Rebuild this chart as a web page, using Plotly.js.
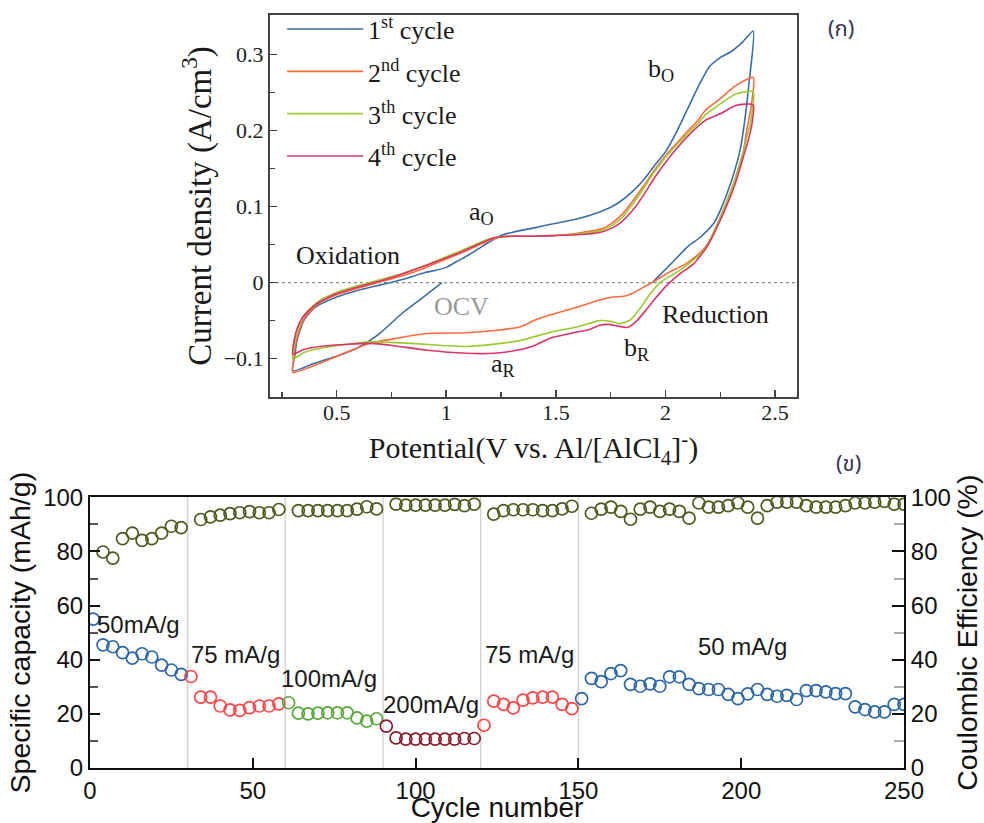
<!DOCTYPE html>
<html><head><meta charset="utf-8">
<script src="https://cdn.plot.ly/plotly-3.0.1.min.js"></script>
<style>html,body{margin:0;padding:0;background:#fff}#chart{width:984px;height:823px}</style>
</head><body><div id="chart"></div>
<script>
// ---------- (ก) cyclic voltammetry: potential (V) and current density (A/cm3) ----------
const cv1V = [0.98,0.9,0.8,0.7,0.6,0.5,0.4,0.3,
  0.31,0.32,0.35,0.4,0.5,0.6,0.7,0.8,0.9,0.95,1.0,1.05,1.1,1.15,1.2,1.25,1.3,1.4,1.5,1.6,1.7,1.75,1.8,1.85,1.9,1.95,2.0,2.05,2.1,2.15,2.2,2.25,2.3,2.35,2.4,
  2.38,2.36,2.34,2.3,2.25,2.22,2.16,2.1,2.04,1.94];
const cv1J = [0,-0.018,-0.04,-0.066,-0.085,-0.097,-0.106,-0.116,
  -0.095,-0.075,-0.05,-0.033,-0.019,-0.01,-0.003,0.004,0.013,0.016,0.02,0.028,0.036,0.045,0.054,0.062,0.066,0.072,0.078,0.084,0.093,0.099,0.108,0.12,0.135,0.154,0.172,0.198,0.228,0.258,0.284,0.296,0.304,0.316,0.331,
  0.26,0.21,0.174,0.133,0.095,0.078,0.06,0.047,0.029,0];

const cv2V = [0.3,0.305,0.31,0.33,0.36,0.42,0.5,0.6,0.7,0.8,0.9,1.0,1.1,1.2,1.25,1.3,1.4,1.5,1.6,1.7,1.75,1.8,1.85,1.9,1.95,2.0,2.05,2.1,2.15,2.18,2.25,2.32,2.4,
  2.39,2.37,2.356,2.31,2.25,2.19,2.16,2.1,2.0,1.94,1.9,1.85,1.81,1.76,1.7,1.6,1.48,1.4,1.34,1.22,1.09,0.91,0.76,0.65,0.55,0.45,0.3];
const cv2J = [-0.118,-0.1,-0.085,-0.062,-0.044,-0.027,-0.016,-0.007,0.001,0.009,0.019,0.031,0.043,0.056,0.06,0.061,0.061,0.062,0.065,0.07,0.077,0.089,0.107,0.127,0.148,0.167,0.183,0.199,0.214,0.226,0.242,0.259,0.27,
  0.23,0.2,0.174,0.13,0.086,0.05,0.04,0.026,0.011,0,-0.006,-0.014,-0.018,-0.019,-0.023,-0.032,-0.042,-0.05,-0.058,-0.063,-0.066,-0.067,-0.074,-0.08,-0.091,-0.103,-0.118];

const cv3V = [0.3,0.305,0.315,0.33,0.36,0.42,0.5,0.6,0.7,0.8,0.9,1.0,1.1,1.2,1.25,1.3,1.4,1.5,1.6,1.7,1.75,1.8,1.85,1.9,1.95,2.0,2.05,2.1,2.15,2.18,2.25,2.32,2.4,
  2.39,2.37,2.356,2.31,2.25,2.19,2.16,2.07,1.975,1.93,1.884,1.84,1.79,1.75,1.7,1.6,1.48,1.34,1.22,1.1,1.0,0.84,0.65,0.45,0.35,0.3];
const cv3J = [-0.101,-0.085,-0.07,-0.056,-0.04,-0.024,-0.013,-0.004,0.004,0.012,0.022,0.034,0.046,0.058,0.06,0.061,0.061,0.062,0.064,0.068,0.074,0.085,0.103,0.124,0.146,0.165,0.181,0.196,0.21,0.22,0.235,0.248,0.251,
  0.215,0.19,0.174,0.13,0.086,0.048,0.038,0.017,0,-0.015,-0.034,-0.049,-0.054,-0.051,-0.05,-0.058,-0.065,-0.076,-0.081,-0.084,-0.083,-0.08,-0.078,-0.085,-0.092,-0.101];

const cv4V = [0.3,0.305,0.317,0.347,0.408,0.5,0.607,0.76,0.913,1.066,1.219,1.3,1.4,1.5,1.6,1.7,1.75,1.8,1.856,1.9,1.95,2.0,2.05,2.1,2.18,2.25,2.32,2.4,
  2.395,2.38,2.364,2.318,2.25,2.189,2.129,2.068,2.005,1.95,1.914,1.87,1.826,1.78,1.74,1.7,1.65,1.58,1.48,1.4,1.34,1.22,1.09,0.913,0.76,0.653,0.454,0.35,0.3];
const cv4J = [-0.094,-0.078,-0.063,-0.045,-0.028,-0.0145,-0.005,0.0075,0.023,0.04,0.059,0.061,0.061,0.062,0.063,0.066,0.071,0.08,0.097,0.115,0.138,0.158,0.176,0.192,0.213,0.222,0.233,0.234,
  0.21,0.19,0.174,0.13,0.082,0.047,0.025,0.012,-0.004,-0.022,-0.035,-0.05,-0.059,-0.057,-0.055,-0.056,-0.062,-0.066,-0.0725,-0.083,-0.088,-0.093,-0.093,-0.089,-0.083,-0.08,-0.083,-0.088,-0.094];

const cvNames = ['1<sup>st</sup> cycle','2<sup>nd</sup> cycle','3<sup>th</sup> cycle','4<sup>th</sup> cycle'];

// ---------- (ข) rate capability: cycle number, specific capacity (mAh/g), coulombic efficiency (%) ----------
const capCyc1 = [1,4,7,10,13,16,19,22,25,28];
const cap1 = [55,45.5,44.8,42.6,40.6,42.2,41,38,36.2,34.6];
const capCyc2 = [31,34,37,40,43,46,49,52,55,58];
const cap2 = [33.8,26.2,26.2,22.9,21.5,21.3,22.3,22.9,22.9,23.7];
const capCyc3 = [61,64,67,70,73,76,79,82,85,88];
const cap3 = [24.1,20.3,20.0,20.3,20.4,20.4,20.4,18.5,17.3,18.2];
const capCyc4 = [91,94,97,100,103,106,109,112,115,118];
const cap4 = [15.5,11.1,10.7,10.7,10.7,10.7,10.7,10.7,10.9,10.9];
const capCyc5 = [121,124,127,130,133,136,139,142,145,148];
const cap5 = [15.8,24.7,23.5,22.2,25.1,25.9,26.2,26.2,23.5,21.9];
const capCyc6 = [151,154,157,160,163,166,169,172,175,178,181,184,187,190,193,196,199,202,205,208,211,214,217,220,223,226,229,232,235,238,241,244,247,250];
const cap6 = [25.6,33.1,31.9,34.9,36,30.9,30.2,31.1,30.2,33.7,33.7,30.9,29.3,29,29,27.2,25.6,27.4,29,27.2,26.5,26.8,25.3,28.6,28.6,28.1,27.5,27.5,22.6,21.6,20.7,20.7,23.5,23.5];
const ceCyc = [4,7,10,13,16,19,22,25,28, 34,37,40,43,46,49,52,55,58, 64,67,70,73,76,79,82,85,88,
  94,97,100,103,106,109,112,115,118, 124,127,130,133,136,139,142,145,148,
  154,157,160,163,166,169,172,175,178,181,184,187,190,193,196,199,202,205,208,211,214,217,220,223,226,229,232,235,238,241,244,247,250];
const ce = [79.8,77.5,84.7,86.8,84.1,84.7,86.8,89.3,88.8, 91.8,92.8,93.4,94.0,94.3,94.7,94.3,94.3,95.5,
  95.1,95.1,95.1,95.1,95.1,95.1,95.6,96.5,95.7, 97.5,97.1,97.1,97.1,97.1,97.1,97.4,96.9,97.5,
  93.8,95.1,95.4,95.4,95.4,95.1,95.1,95.7,96.7,
  94.1,95.6,96.4,94.8,91.9,95.6,96.4,94.8,95.6,94.8,92.3,97.9,96.4,96.4,96.9,97.9,96.4,92.3,96.9,98.2,98.2,98.2,96.9,96.4,96.4,96.4,96.9,97.9,97.9,98.2,98.5,97.5,97.5];
const rateLabels = ['50mA/g','75 mA/g','100mA/g','200mA/g','75 mA/g','50 mA/g'];
const rateX = [15,44.7,73.3,104.6,135,200.4];
const rateY = [52.9,41.8,33.2,23.3,41.8,44.8];
const boundaries = [30,60,90,120,150];

const SERIF = 'Liberation Serif, Times New Roman, serif';
const SANS = 'Liberation Sans, Arial, sans-serif';
const THAI = 'Noto Sans Thai, Loma, Garuda, Noto Sans, DejaVu Sans, sans-serif';
const cvColors = ['#3a6eaa','#ff6a3c','#9acb2e','#dd3468'];

const traces = [];
[[cv1V,cv1J],[cv2V,cv2J],[cv3V,cv3J],[cv4V,cv4J]].forEach((d,i)=>{
  traces.push({x:d[0], y:d[1], type:'scatter', mode:'lines', name:cvNames[i], legendgroup:'c'+i,
    line:{color:cvColors[i], width:1.6, shape:'spline', smoothing:0.6}, xaxis:'x', yaxis:'y'});
});
const capSets = [[capCyc1,cap1,'#2b66a8'],[capCyc2,cap2,'#ff4545'],[capCyc3,cap3,'#58a83a'],
  [capCyc4,cap4,'#8b1c2e'],[capCyc5,cap5,'#ff4545'],[capCyc6,cap6,'#2b66a8']];
capSets.forEach(s=>{
  traces.push({x:s[0], y:s[1], type:'scatter', mode:'markers', showlegend:false, xaxis:'x2', yaxis:'y2',
    marker:{symbol:'circle-open', size:12, color:s[2], line:{width:1.7, color:s[2]}}});
});
traces.push({x:ceCyc, y:ce, type:'scatter', mode:'markers', showlegend:false, xaxis:'x2', yaxis:'y3',
  marker:{symbol:'circle-open', size:12, color:'#4a5b1c', line:{width:1.7, color:'#4a5b1c'}}});

const annotations = [
  {x:1.98, y:0.279, text:'b<sub>O</sub>'},
  {x:1.163, y:0.091, text:'a<sub>O</sub>'},
  {x:0.55, y:0.035, text:'Oxidation'},
  {x:1.07, y:-0.032, text:'OCV', color:'#999999'},
  {x:2.23, y:-0.042, text:'Reduction'},
  {x:1.259, y:-0.108, text:'a<sub>R</sub>'},
  {x:1.87, y:-0.087, text:'b<sub>R</sub>'}
].map(a=>({x:a.x, y:a.y, xref:'x', yref:'y', text:a.text, showarrow:false,
  font:{family:SERIF, size:26, color:a.color||'#1a1a1a'}}));
rateLabels.forEach((t,i)=>annotations.push({x:rateX[i], y:rateY[i], xref:'x2', yref:'y2', text:t, showarrow:false,
  font:{family:SANS, size:24, color:'#1a1a1a'}}));
annotations.push({x:0.9226, y:0.9814, xref:'paper', yref:'paper', xanchor:'center', yanchor:'middle', text:'(ก)', showarrow:false,
  font:{family:THAI, size:22, color:'#3a3550'}});
annotations.push({x:0.9324, y:0.4024, xref:'paper', yref:'paper', xanchor:'center', yanchor:'middle', text:'(ข)', showarrow:false,
  font:{family:THAI, size:22, color:'#3a3550'}});

const shapes = boundaries.map(b=>({type:'line', xref:'x2', yref:'y2 domain', x0:b, x1:b, y0:0, y1:1,
  line:{color:'#d4d4d4', width:1.5}, layer:'below'}));
shapes.push({type:'line', xref:'x domain', yref:'y', x0:0, x1:1, y0:0, y1:0,
  line:{color:'#8a8a8a', width:1.3, dash:'dot'}, layer:'below'});

const topTick = {family:SERIF, size:22, color:'#222'};
const botTick = {family:SANS, size:24, color:'#111'};
const layout = {
  width:984, height:823, margin:{l:90, r:80, t:15, b:55, autoexpand:false},
  paper_bgcolor:'#fff', plot_bgcolor:'#fff', showlegend:true,
  font:{family:SANS, color:'#111'},
  xaxis:{domain:[0.2211,0.8686], anchor:'y', range:[0.196,2.6], showline:true, mirror:true, linecolor:'#444', linewidth:2,
    ticks:'inside', ticklen:7, tickwidth:1.5, tickcolor:'#444', tickvals:[0.5,1,1.5,2,2.5],
    minor:{ticks:'inside', ticklen:5, tickwidth:1.5, tickcolor:'#444', tickvals:[0.25,0.75,1.25,1.75,2.25]},
    showgrid:false, zeroline:false, tickfont:topTick, ticklabelstandoff:-5,
    title:{text:'Potential(V vs. Al/[AlCl<sub>4</sub>]<sup>-</sup>)', font:{family:SERIF, size:30, color:'#1a1a1a'}, standoff:13}},
  yaxis:{domain:[0.4927,1], anchor:'x', range:[-0.1505,0.352], showline:true, mirror:true, linecolor:'#444', linewidth:2,
    ticks:'inside', ticklen:7, tickwidth:1.5, tickcolor:'#444', tickvals:[-0.1,0,0.1,0.2,0.3],
    minor:{ticks:'inside', ticklen:5, tickwidth:1.5, tickcolor:'#444', tickvals:[-0.05,0.05,0.15,0.25]},
    showgrid:false, zeroline:false, tickfont:topTick,
    title:{text:'Current density (A/cm<sup>3</sup>)', font:{family:SERIF, size:33, color:'#1a1a1a'}, standoff:2}},
  xaxis2:{domain:[0,1], anchor:'y2', range:[0,250], showline:true, mirror:true, linecolor:'#111', linewidth:2,
    ticks:'inside', ticklen:10, tickwidth:2, tickcolor:'#111', dtick:50, tick0:0,
    showgrid:false, zeroline:false, tickfont:botTick,
    title:{text:'Cycle number', font:{family:SANS, size:28, color:'#111'}, standoff:4}},
  yaxis2:{domain:[0,0.3595], anchor:'x2', range:[0,100], showline:true, linecolor:'#111', linewidth:2,
    ticks:'inside', ticklen:10, tickwidth:2, tickcolor:'#111', dtick:20, tick0:0,
    minor:{ticks:'inside', ticklen:8, tickwidth:2, tickcolor:'#555', dtick:10, tick0:0},
    showgrid:false, zeroline:false, tickfont:botTick,
    title:{text:'Specific capacity (mAh/g)', font:{family:SANS, size:28.5, color:'#111'}, standoff:4}},
  yaxis3:{overlaying:'y2', side:'right', anchor:'x2', range:[0,100], showline:true, linecolor:'#111', linewidth:2,
    ticks:'inside', ticklen:12, tickwidth:2, tickcolor:'#111', dtick:20, tick0:0,
    minor:{ticks:'inside', ticklen:10, tickwidth:2, tickcolor:'#aaa', dtick:10, tick0:0},
    showgrid:false, zeroline:false, tickfont:botTick,
    title:{text:'Coulombic Efficiency (%)', font:{family:SANS, size:28.5, color:'#111'}, standoff:4}},
  legend:{x:0.236, y:1.0124, xanchor:'left', yanchor:'top', bgcolor:'rgba(0,0,0,0)', borderwidth:0,
    font:{family:SERIF, size:26, color:'#1a1a1a'}, itemwidth:76, traceorder:'grouped', tracegroupgap:5.5},
  annotations:annotations, shapes:shapes
};
Plotly.newPlot('chart', traces, layout, {displayModeBar:false, staticPlot:true});
</script>
</body></html>
